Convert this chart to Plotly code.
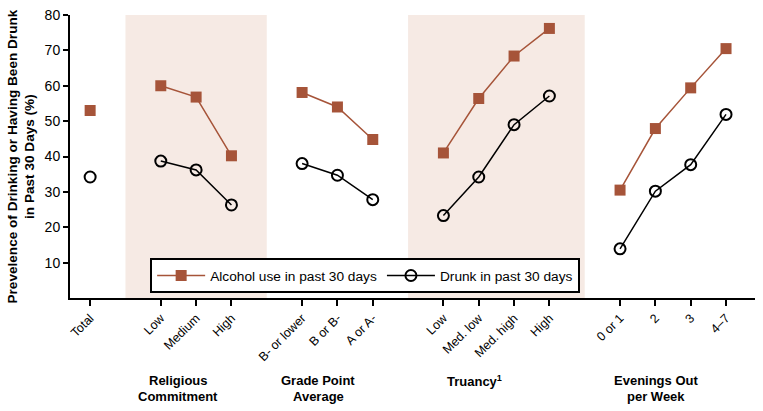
import plotly.graph_objects as go

# ---- data ----
categories = ["Total",
              "Low", "Medium", "High",
              "B- or lower", "B or B-", "A or A-",
              "Low", "Med. low", "Med. high", "High",
              "0 or 1", "2", "3", "4\u20137"]
positions = [0, 2, 3, 4, 6, 7, 8, 10, 11, 12, 13, 15, 16, 17, 18]
group_id = [0, 1, 1, 1, 2, 2, 2, 3, 3, 3, 3, 4, 4, 4, 4]

alcohol = [53.0,
           60.0, 56.8, 40.2,
           58.1, 54.0, 44.8,
           41.0, 56.4, 68.4, 76.2,
           30.5, 47.9, 59.4, 70.5]
drunk = [34.2,
         38.7, 36.2, 26.3,
         38.0, 34.7, 27.8,
         23.3, 34.2, 49.0, 57.1,
         13.9, 30.2, 37.7, 51.9]

group_titles = [["Religious", "Commitment"],
                ["Grade Point", "Average"],
                ["Truancy<sup>1</sup>"],
                ["Evenings Out", "per Week"]]
group_title_x = [2.49, 6.45, 10.87, 16.02]
shaded_spans = [(1, 5), (9, 14)]

series_names = ["Alcohol use in past 30 days", "Drunk in past 30 days"]
y_title = "Prevelence of Drinking or Having Been Drunk<br>in Past 30 Days (%)"
y_ticks = [10, 20, 30, 40, 50, 60, 70, 80]

BROWN = "#A65439"
SHADE = "#F6EAE4"
FONT = "Liberation Sans, Arial, Helvetica, sans-serif"


def with_gaps(vals):
    xs, ys = [], []
    prev = None
    for p, v, g in zip(positions, vals, group_id):
        if prev is not None and g != prev:
            xs.append(None)
            ys.append(None)
        xs.append(p)
        ys.append(v)
        prev = g
    return xs, ys


fig = go.Figure()

ax, ay = with_gaps(alcohol)
fig.add_trace(go.Scatter(
    x=ax, y=ay, mode="lines+markers", name=series_names[0],
    line=dict(color=BROWN, width=1.5),
    marker=dict(symbol="square", size=11, color=BROWN),
    connectgaps=False))

dx, dy = with_gaps(drunk)
fig.add_trace(go.Scatter(
    x=dx, y=dy, mode="lines+markers", name=series_names[1],
    line=dict(color="black", width=1.5),
    marker=dict(symbol="circle-open", size=11, color="black",
                line=dict(width=2, color="black")),
    connectgaps=False))

for x0, x1 in shaded_spans:
    fig.add_shape(type="rect", xref="x", yref="y", x0=x0, x1=x1, y0=0, y1=80,
                  fillcolor=SHADE, line=dict(width=0), layer="below")

annotations = []
line_px = 15
plot_h = 283
for lines, gx in zip(group_titles, group_title_x):
    for i, txt in enumerate(lines):
        ypix = 381 + i * line_px  # pixel center from top
        annotations.append(dict(
            x=gx, xref="x", y=(298 - ypix) / plot_h, yref="paper",
            text=txt, showarrow=False, xanchor="center", yanchor="middle",
            font=dict(family=FONT, size=13, color="black", weight="bold")))

annotations.append(dict(
    x=-0.0715, xref="paper", y=0.5, yref="paper", text=y_title,
    textangle=-90, showarrow=False, xanchor="center", yanchor="middle",
    font=dict(family=FONT, size=13.6, color="black", weight="bold")))

fig.update_layout(
    width=763, height=411,
    margin=dict(l=70, r=8, t=15, b=113, pad=0),
    paper_bgcolor="white", plot_bgcolor="white",
    font=dict(family=FONT, size=13, color="black"),
    showlegend=True,
    legend=dict(orientation="h", x=0.117, y=0.141, xanchor="left", yanchor="top",
                bgcolor="white", bordercolor="black", borderwidth=2,
                font=dict(family=FONT, size=13.7, color="black"),
                itemwidth=48),
    annotations=annotations,
    xaxis=dict(range=[-0.57, 18.82], tickmode="array", tickvals=positions,
               ticktext=categories, tickangle=-45, ticks="outside", ticklen=6,
               tickwidth=1.5, tickcolor="black", showline=True, linecolor="black",
               linewidth=2, showgrid=False, zeroline=False, automargin=False,
               tickfont=dict(family=FONT, size=12.5, color="black")),
    yaxis=dict(range=[0, 80], tickvals=y_ticks, ticks="outside", ticklen=5,
               tickwidth=1.5, tickcolor="black", showline=True, linecolor="black",
               linewidth=2, showgrid=False, zeroline=False, automargin=False,
               tickfont=dict(family=FONT, size=14, color="black")),
)

fig.write_html("out.html", config={"displayModeBar": False},
               post_script="document.body.style.margin='0';")
